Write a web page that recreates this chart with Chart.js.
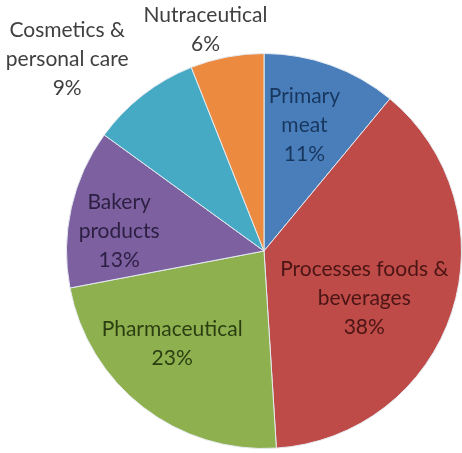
<!DOCTYPE html>
<html>
<head>
<meta charset="utf-8">
<title>Market share pie</title>
<script src="https://cdn.jsdelivr.net/npm/chart.js@4"></script>
<style>
  * { margin: 0; padding: 0; }
  body { background: #fff; width: 462px; height: 453px; overflow: hidden; }
  canvas { display: block; }
</style>
</head>
<body>
<canvas id="chart" width="462" height="453"></canvas>
<script>
const categories = [
  ['Primary', 'meat'],
  ['Processes foods &', 'beverages'],
  ['Pharmaceutical'],
  ['Bakery', 'products'],
  ['Cosmetics &', 'personal care'],
  ['Nutraceutical']
];
const shares = [11, 38, 23, 13, 9, 6];

const sliceColors = ['#4A7EBB', '#BE4B48', '#8FB04F', '#7D60A0', '#46AAC5', '#EC8B40'];
const textColors = ['#17375E', '#4A1514', '#2B3F12', '#2C1F42', '#404040', '#404040'];
// where each label sits: fraction of radius, and angle nudge in degrees
const labelRadius = [0.67, 0.56, 0.66, 0.74, 1.39, 1.16];
const labelNudge = [-2, 7, 7, -5, -8, -4];

const pieLabels = {
  id: 'pieLabels',
  afterDatasetsDraw(chart) {
    const ctx = chart.ctx;
    const meta = chart.getDatasetMeta(0);
    ctx.save();
    ctx.font = '21px Lato, "Open Sans", sans-serif';
    ctx.textAlign = 'center';
    ctx.textBaseline = 'middle';
    meta.data.forEach((arc, i) => {
      const p = arc.getProps(['x', 'y', 'startAngle', 'endAngle', 'outerRadius']);
      const mid = (p.startAngle + p.endAngle) / 2 + labelNudge[i] * Math.PI / 180;
      const r = p.outerRadius * labelRadius[i];
      const cx = p.x + Math.cos(mid) * r;
      const cy = p.y + Math.sin(mid) * r;
      const lines = categories[i].concat([shares[i] + '%']);
      const lh = 29;
      ctx.fillStyle = textColors[i];
      lines.forEach((t, k) => {
        ctx.fillText(t, cx, cy + (k - (lines.length - 1) / 2) * lh);
      });
    });
    ctx.restore();
  }
};

new Chart(document.getElementById('chart'), {
  type: 'pie',
  data: {
    labels: categories.map(c => c.join(' ')),
    datasets: [{
      data: shares,
      backgroundColor: sliceColors,
      borderColor: '#e4eaf0',
      borderWidth: 1
    }]
  },
  options: {
    responsive: false,
    animation: false,
    layout: { padding: { left: 66, right: 0, top: 53, bottom: 4 } },
    plugins: {
      legend: { display: false },
      tooltip: { enabled: false }
    }
  },
  plugins: [pieLabels]
});
</script>
</body>
</html>
